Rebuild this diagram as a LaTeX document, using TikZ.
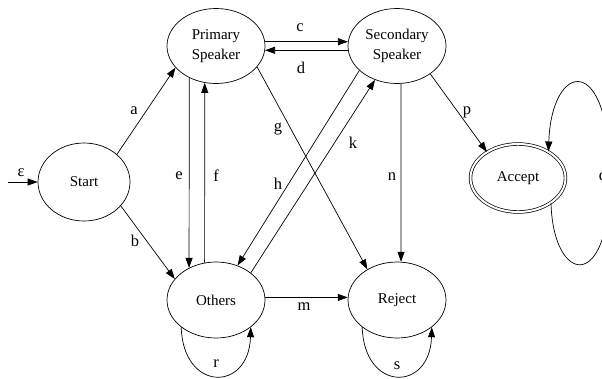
\documentclass[tikz,border=0pt]{standalone}
\usepackage{fontspec}
\setmainfont{Liberation Serif}
\usetikzlibrary{arrows.meta,shapes.geometric}
\begin{document}
\begin{tikzpicture}[x=1pt,y=-1pt,
  state/.style={draw, ellipse, line width=0.7pt, inner sep=0pt, minimum width=98pt, minimum height=75pt, align=center, font=\fontsize{15}{20}\selectfont},
  lbl/.style={inner sep=0pt, font=\fontsize{16.5}{18}\selectfont},
  arr/.style={-{Triangle[length=10pt,width=7pt]}, line width=0.7pt},
  ln/.style={line width=0.7pt}]
\useasboundingbox (0,0) rectangle (602,378);
% states
\node[state, minimum width=92pt, minimum height=78pt] (St) at (84,182) {Start};
\node[state] (P) at (216,46) {Primary\\Speaker};
\node[state] (S) at (397,46) {Secondary\\Speaker};
\node[state, minimum height=76pt] (O) at (216,300) {Others};
\node[state, minimum height=76pt] (R) at (397,300) {Reject};
\node[state, double, double distance=2pt, minimum width=95pt, minimum height=68pt] (A) at (518,178) {Accept};
% free ends
\coordinate (eps) at (8,182);
\coordinate (qmid) at (610,178);
% edges
\draw[arr] (eps) -- (St.west);
\draw[arr] (St.40) -- (P.208);
\draw[arr] (St.327) -- (O.153);
\draw[arr] (P.5) -- (S.175);
\draw[arr] (S.185) -- (P.355);
\draw[arr] (P.230) -- (O.130);
\draw[arr] (O.107) -- (P.253);
\draw[arr] (P.333) -- (R.134);
\draw[arr] (S.213) -- (O.58);
\draw[arr] (O.38) -- (S.237);
\draw[arr] (S.276) -- (R.84);
\draw[arr] (S.320) -- (A.140);
\draw[arr] (O.3) -- (R.177);
\draw[arr] (O.218) .. controls +(2,65) and +(-2,65) .. (O.322);
\draw[arr] (R.218) .. controls +(2,65) and +(-2,65) .. (R.322);
\draw[ln] (A.323) .. controls +(2,81) and +(0,117) .. (qmid);
\draw[arr] (qmid) .. controls +(0,-128) and +(3,-90) .. (A.41);
% labels
\node[lbl] (le) at (21,173) {ε};
\node[lbl] (la) at (134,111) {a};
\node[lbl] (lb) at (135,241) {b};
\node[lbl] (lc) at (300,28) {c};
\node[lbl] (ld) at (301,68) {d};
\node[lbl] (lee) at (179,176) {e};
\node[lbl] (lf) at (216,176) {f};
\node[lbl] (lg) at (278,129) {g};
\node[lbl] (lh) at (278,184) {h};
\node[lbl] (lk) at (353,143) {k};
\node[lbl] (ln) at (392,177) {n};
\node[lbl] (lp) at (467,112) {p};
\node[lbl] (lm) at (304,307) {m};
\node[lbl] (lr) at (216,364) {r};
\node[lbl] (ls) at (397,366) {s};
\node[lbl] (lq) at (603,178) {q};
\end{tikzpicture}
\end{document}
